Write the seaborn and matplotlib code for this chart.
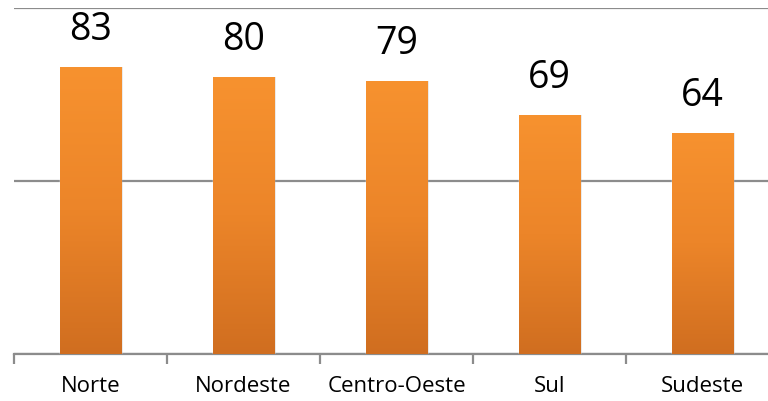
import matplotlib
matplotlib.use('Agg')
import matplotlib.pyplot as plt
import numpy as np
import pandas as pd
import seaborn as sns
from matplotlib.colors import LinearSegmentedColormap

regioes = ['Norte', 'Nordeste', 'Centro-Oeste', 'Sul', 'Sudeste']
valores = [83, 80, 79, 69, 64]

sns.set_style('white')
plt.rcParams['font.family'] = ['Open Sans', 'DejaVu Sans']

df = pd.DataFrame({'regiao': regioes, 'valor': valores})

fig = plt.figure(figsize=(7.68, 4.01), dpi=100)
# axes runs a little past the right edge, like the original slide chart
ax = fig.add_axes([14 / 768, 47 / 401, 765 / 768, 346 / 401])

sns.barplot(data=df, x='regiao', y='valor', color='#F79230', width=0.405,
            saturation=1, ax=ax, zorder=3)

ax.set_yticks([0, 50, 100])
ax.yaxis.grid(True, color='#8c8c8c', linewidth=1.6, zorder=0)
ax.set_yticklabels([])
ax.tick_params(axis='y', length=0)
for s in ['left', 'right', 'top']:
    ax.spines[s].set_visible(False)
ax.spines['bottom'].set_color('#8c8c8c')
ax.spines['bottom'].set_linewidth(1.6)

# gradient fill on each bar (light on top, darker below)
cmap = LinearSegmentedColormap.from_list('grad', ['#D06E20', '#EC8529', '#F7922F'])
grad = np.linspace(0, 1, 256).reshape(-1, 1)
for bar in ax.patches[:]:
    x0, y0 = bar.get_x(), bar.get_y()
    w, h = bar.get_width(), bar.get_height()
    # soft shadow
    sh = plt.Rectangle((x0 + 0.012, y0), w, h, color='#000000', alpha=0.10,
                       zorder=2, linewidth=0)
    ax.add_patch(sh)
    im = ax.imshow(grad, cmap=cmap, aspect='auto', origin='lower',
                   extent=(x0, x0 + w, y0, y0 + h), zorder=4)
    im.set_clip_path(bar)
    ax.annotate(str(int(h)), (x0 + w / 2, h), xytext=(0, 13),
                textcoords='offset points', ha='center', va='bottom',
                fontsize=27, color='black')

ax.set_xlim(-0.5, len(regioes) - 0.5)
ax.set_ylim(0, 100)
ax.set_xlabel('')
ax.set_ylabel('')
ax.set_xticks(range(len(regioes)))
ax.set_xticklabels(regioes, fontsize=16, color='black')
ax.tick_params(axis='x', which='major', length=0, pad=16)
ax.set_xticks(np.arange(-0.5, len(regioes), 1), minor=True)
ax.tick_params(axis='x', which='minor', bottom=True, length=7, width=1.6,
               color='#8c8c8c', direction='out')

fig.savefig('out.png', dpi=100)
